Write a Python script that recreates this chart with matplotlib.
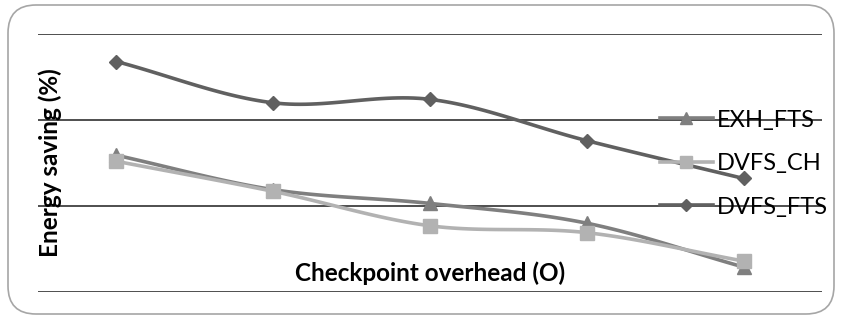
import numpy as np
import matplotlib
matplotlib.use("Agg")
from matplotlib import pyplot as plt
from matplotlib.patches import FancyBboxPatch

# values (no tick labels shown, arbitrary % scale 0-30)
categories = [1, 2, 3, 4, 5]
exh_fts = [15.9, 11.9, 10.3, 8.0, 2.9]
dvfs_ch = [15.2, 11.7, 7.7, 6.9, 3.6]
dvfs_fts = [26.8, 22.0, 22.4, 17.6, 13.2]
labels = ['EXH_FTS', 'DVFS_CH', 'DVFS_FTS']


def smooth(xs, ys, n=30):
    # catmull-rom curve through the points, like Excel's "smoothed line"
    xs = np.asarray(xs, float)
    ys = np.asarray(ys, float)
    px = np.concatenate([[2 * xs[0] - xs[1]], xs, [2 * xs[-1] - xs[-2]]])
    py = np.concatenate([[2 * ys[0] - ys[1]], ys, [2 * ys[-1] - ys[-2]]])
    out_x, out_y = [], []
    t = np.linspace(0, 1, n)
    for i in range(1, len(px) - 2):
        for p, out in ((px, out_x), (py, out_y)):
            p0, p1, p2, p3 = p[i - 1], p[i], p[i + 1], p[i + 2]
            out.extend(0.5 * (2 * p1 + (-p0 + p2) * t
                              + (2 * p0 - 5 * p1 + 4 * p2 - p3) * t ** 2
                              + (-p0 + 3 * p1 - 3 * p2 + p3) * t ** 3))
    return out_x, out_y


plt.rcParams['font.family'] = ['Lato', 'DejaVu Sans']

fig = plt.figure(figsize=(8.42, 3.2), dpi=100)
ax = fig.add_axes([38 / 842, 1 - 292 / 320, 784 / 842, 258 / 320])

x = np.arange(len(categories))
series = [exh_fts, dvfs_ch, dvfs_fts]
colors = ['#7f7f7f', '#b2b2b2', '#606060']
markers = ['^', 's', 'D']
sizes = [9.5, 10, 7.5]

for ys, c, m, ms, lab in zip(series, colors, markers, sizes, labels):
    sx, sy = smooth(x, ys)
    ax.plot(sx, sy, color=c, lw=2.6, solid_capstyle='round')
    ax.plot(x, ys, ls='none', marker=m, ms=ms, color=c)
    # legend proxy
    ax.plot([], [], color=c, lw=2.6, marker=m, ms=ms * 0.85, label=lab)

ax.set_xlim(-0.5, len(categories) - 0.5)
ax.set_ylim(0, 30)
ax.set_yticks([0, 10, 20, 30])
ax.set_xticks([])
ax.tick_params(left=False, labelleft=False)
ax.grid(axis='y', color='#303030', lw=1.2)
ax.set_axisbelow(True)
for s in ax.spines.values():
    s.set_visible(False)
ax.patch.set_alpha(0)

ax.set_xlabel('Checkpoint overhead (O)', fontsize=17.5, fontweight='bold', va='center')
ax.xaxis.set_label_coords(0.5, 0.074)
ax.set_ylabel('Energy saving (%)', fontsize=17.5, fontweight='bold', va='center')
ax.yaxis.set_label_coords(0.016, 0.5)

ax.legend(loc='upper left', bbox_to_anchor=(0.781, 0.743), frameon=False,
          fontsize=17, handlelength=2.25, handletextpad=0.15, labelspacing=0.95,
          borderaxespad=0)

fig.patches.append(FancyBboxPatch((0.08, 0.06), 8.26, 3.09,
                                  boxstyle='round,pad=0,rounding_size=0.28',
                                  transform=fig.dpi_scale_trans, fill=False,
                                  edgecolor='#a6a6a6', lw=1.2))

fig.savefig('out.png', dpi=100)
